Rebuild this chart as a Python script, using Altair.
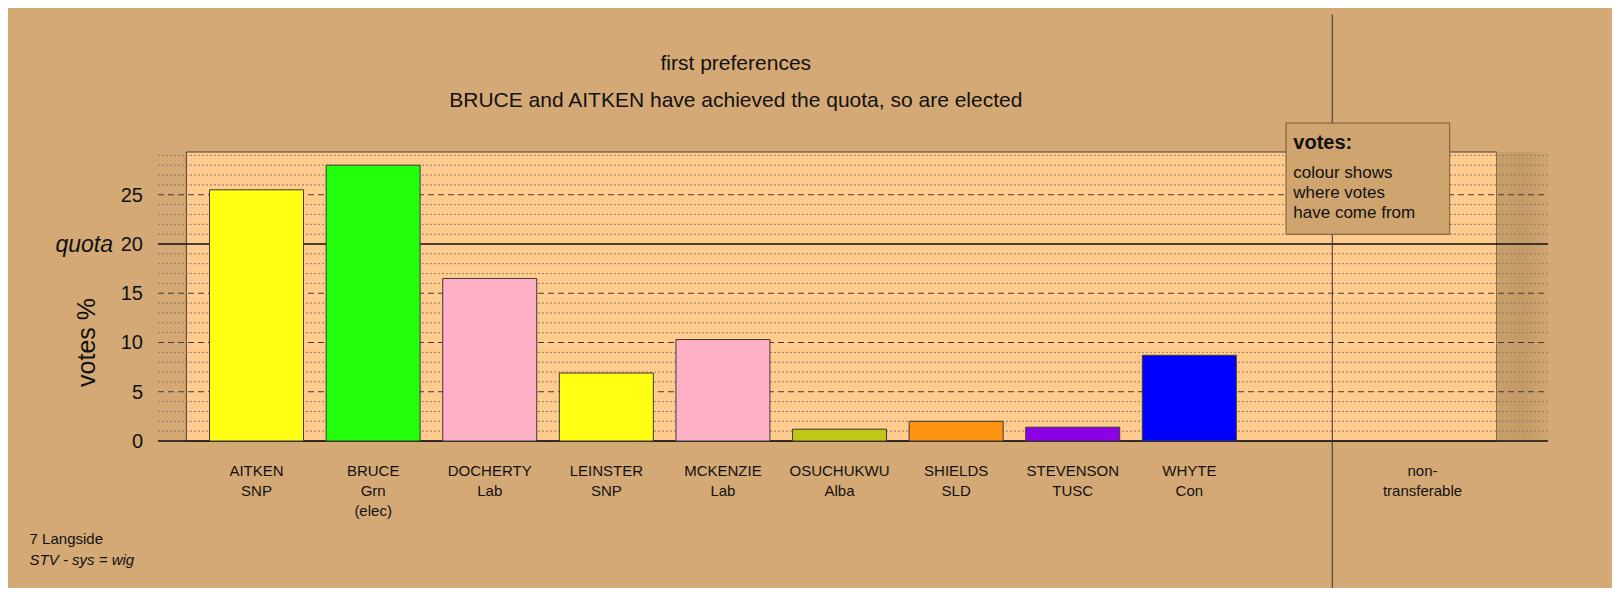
import altair as alt
import pandas as pd

# ---------------- data ----------------
candidates = ["AITKEN", "BRUCE", "DOCHERTY", "LEINSTER", "MCKENZIE",
              "OSUCHUKWU", "SHIELDS", "STEVENSON", "WHYTE"]
parties = ["SNP", "Grn", "Lab", "SNP", "Lab", "Alba", "SLD", "TUSC", "Con"]
notes = ["", "(elec)", "", "", "", "", "", "", ""]
votes_pct = [25.5, 28.0, 16.5, 6.9, 10.3, 1.2, 2.0, 1.4, 8.7]
bar_colours = ["#FFFF14", "#22FF0A", "#FFB0C4", "#FFFF14", "#FFB0C4",
               "#C0C817", "#FF9410", "#8B00E6", "#0000FF"]
nontrans_label = ["non-", "transferable"]
nontrans_slot = 10
y_ticks = [0, 5, 10, 15, 20, 25]
minor_grid = [v for v in range(1, 30) if v % 5 != 0]
major_grid = [5, 10, 15, 25]
quota = 20
title_lines = ["first preferences",
               "BRUCE and AITKEN have achieved the quota, so are elected"]
legend_title = "votes:"
legend_lines = ["colour shows", "where votes", "have come from"]
footer_lines = ["7 Langside", "STV - sys = wig"]

# ---------------- layout constants ----------------
W, H = 1390, 289
FONT = "Liberation Sans"
BG = "#D4A976"
xs = alt.Scale(domain=[-0.845, 11.076], nice=False, zero=False)
ys = alt.Scale(domain=[0, 29.34], nice=False, zero=False)
HALF = 0.403

bars_df = pd.DataFrame({
    "name": candidates,
    "v": votes_pct,
    "col": bar_colours,
    "slot": list(range(len(candidates))),
})
bars_df["xl"] = bars_df["slot"] - HALF
bars_df["xr"] = bars_df["slot"] + HALF
bars_df["zero"] = 0.0

labels_df = pd.DataFrame({
    "slot": list(range(len(candidates))) + [nontrans_slot],
    "name": candidates + [nontrans_label[0]],
    "party": parties + [nontrans_label[1]],
    "note": notes + [""],
})

one = pd.DataFrame({"a": [0]})

# plot box
box = alt.Chart(pd.DataFrame({"x": [-0.602], "x2": [10.636]})).mark_rect(
    fill="#FFCB8E", stroke="#4a3a28", strokeWidth=1
).encode(x=alt.X("x:Q", scale=xs, axis=None), x2="x2:Q",
         y=alt.value(0), y2=alt.value(H))

strip = alt.Chart(pd.DataFrame({"x": [10.636], "x2": [11.076]})).mark_rect(
    fill=alt.Gradient(gradient="linear",
                      stops=[alt.GradientStop(color="#C9A06B", offset=0),
                             alt.GradientStop(color="#C39A66", offset=0.5),
                             alt.GradientStop(color="#D0A672", offset=1)],
                      x1=0, x2=1, y1=0, y2=0)
).encode(x=alt.X("x:Q", scale=xs, axis=None), x2="x2:Q",
         y=alt.value(0), y2=alt.value(H))

minor = alt.Chart(pd.DataFrame({"v": minor_grid})).mark_rule(
    color="#8F7A62", strokeDash=[2, 2], strokeWidth=1
).encode(y=alt.Y("v:Q", scale=ys, axis=None), x=alt.value(0), x2=alt.value(W))

major = alt.Chart(pd.DataFrame({"v": major_grid})).mark_rule(
    color="#4a3a2a", strokeDash=[6, 4], strokeWidth=1
).encode(y=alt.Y("v:Q", scale=ys, axis=None), x=alt.value(0), x2=alt.value(W))

solid = alt.Chart(pd.DataFrame({"v": [0, quota]})).mark_rule(
    color="#111111", strokeWidth=1.4
).encode(y=alt.Y("v:Q", scale=ys, axis=None), x=alt.value(0), x2=alt.value(W))

bars = alt.Chart(bars_df).mark_rect(stroke="#3a3a3a", strokeWidth=1).encode(
    x=alt.X("xl:Q", scale=xs, axis=None), x2="xr:Q",
    y=alt.Y("v:Q", scale=ys, axis=None), y2="zero:Q",
    color=alt.Color("col:N", scale=None, legend=None),
)

vline = alt.Chart(pd.DataFrame({"x": [9.226]})).mark_rule(
    color="#333333", strokeWidth=1
).encode(x=alt.X("x:Q", scale=xs, axis=None),
         y=alt.value(-137.5), y2=alt.value(436))

ytick_text = alt.Chart(pd.DataFrame({"v": y_ticks})).mark_text(
    align="right", baseline="middle", font=FONT, fontSize=20, color="#111111", dy=1
).encode(y=alt.Y("v:Q", scale=ys, axis=None), x=alt.value(-15),
         text=alt.Text("v:Q"))

quota_text = alt.Chart(pd.DataFrame({"v": [quota], "t": ["quota"]})).mark_text(
    align="right", baseline="middle", font=FONT, fontSize=23, fontStyle="italic",
    color="#111111", dy=1
).encode(y=alt.Y("v:Q", scale=ys, axis=None), x=alt.value(-45), text="t:N")

ytitle = alt.Chart(pd.DataFrame({"t": ["votes %"]})).mark_text(
    align="center", baseline="middle", font=FONT, fontSize=25, angle=270,
    color="#111111"
).encode(x=alt.value(-71), y=alt.value(190.5), text="t:N")

def row(field, yv):
    return alt.Chart(labels_df).mark_text(
        align="center", baseline="middle", font=FONT, fontSize=15, color="#111111"
    ).encode(x=alt.X("slot:Q", scale=xs, axis=None), y=alt.value(yv),
             text=f"{field}:N")

name_row = row("name", 319.3)
party_row = row("party", 339.3)
note_row = row("note", 358.6)

titles = alt.Chart(pd.DataFrame({"t": title_lines, "y": [-87.7, -50.7]})).mark_text(
    align="center", baseline="middle", font=FONT, fontSize=21, color="#111111"
).encode(x=alt.value(577.8), y=alt.Y("y:Q", scale=None), text="t:N")

legend_box = alt.Chart(one).mark_rect(
    fill="#CFA46F", stroke="#7a5a38", strokeWidth=1
).encode(x=alt.value(1128), x2=alt.value(1291.7),
         y=alt.value(-29), y2=alt.value(82.3))

legend_head = alt.Chart(pd.DataFrame({"t": [legend_title]})).mark_text(
    align="left", baseline="middle", font=FONT, fontSize=20, fontWeight="bold",
    color="#111111"
).encode(x=alt.value(1135.3), y=alt.value(-9.4), text="t:N")

legend_body = alt.Chart(pd.DataFrame({"t": legend_lines, "y": [20.6, 40.5, 60.5]})).mark_text(
    align="left", baseline="middle", font=FONT, fontSize=17, color="#111111"
).encode(x=alt.value(1135.3), y=alt.Y("y:Q", scale=None), text="t:N")

footer1 = alt.Chart(pd.DataFrame({"t": [footer_lines[0]]})).mark_text(
    align="left", baseline="middle", font=FONT, fontSize=15, color="#111111"
).encode(x=alt.value(-128.4), y=alt.value(386.6), text="t:N")

footer2 = alt.Chart(pd.DataFrame({"t": [footer_lines[1]]})).mark_text(
    align="left", baseline="middle", font=FONT, fontSize=15, fontStyle="italic",
    color="#111111"
).encode(x=alt.value(-128.4), y=alt.value(408.3), text="t:N")

chart = alt.layer(
    box, strip, minor, major, solid, bars, vline,
    ytick_text, quota_text, ytitle, name_row, party_row, note_row,
    titles, legend_box, legend_head, legend_body, footer1, footer2,
).properties(
    width=W, height=H,
    autosize=alt.AutoSizeParams(type="none"),
    padding={"left": 150, "top": 144, "right": 64, "bottom": 147},
    background=BG,
).configure_view(stroke=None)

chart.save("out.html", embed_options={"renderer": "svg", "actions": False})
